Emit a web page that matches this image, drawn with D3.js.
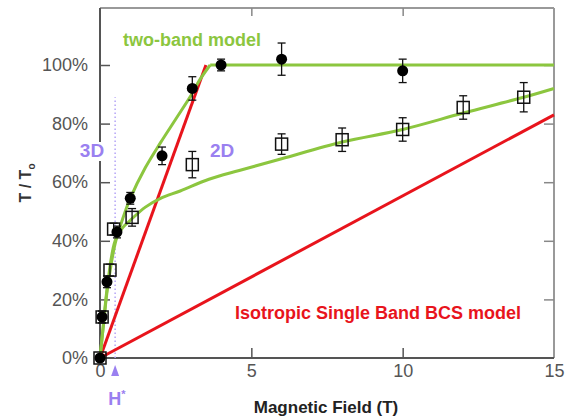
<!DOCTYPE html>
<html><head><meta charset="utf-8">
<script src="https://cdn.jsdelivr.net/npm/d3@7"></script>
<style>
html,body{margin:0;padding:0;background:#fff;}
svg{display:block;font-family:"Liberation Sans",Arial,sans-serif;}
</style></head>
<body>
<svg id="c" width="570" height="419"></svg>
<script>
// ---- data ----
const xTicks = [0, 5, 10, 15];
const yTicks = [0, 20, 40, 60, 80, 100];

// filled circles (3D measurement)
const circleX = [0, 0.07, 0.23, 0.56, 1.0, 2.05, 3.05, 4.0, 6.0, 10.0];
const circleY = [0, 14, 26, 43, 54.5, 69, 92, 100, 102, 98];
const circleErr = [1, 2, 2, 2, 2, 3, 4, 2, 5.5, 4];

// open squares (2D measurement)
const squareX = [0, 0.07, 0.33, 0.45, 1.06, 3.05, 6.0, 8.0, 10.0, 12.0, 14.0];
const squareY = [0, 14, 30, 44, 48, 66, 73, 74.5, 78, 85.5, 89];
const squareErr = [1, 2, 2, 2, 3, 4.5, 3.5, 4, 4, 4, 5];

// two-band model curves (3D: curved part, then saturated at 100%)
const band3DX = [0, 0.1, 0.25, 0.5, 0.75, 1.0, 1.5, 2.0, 2.5, 3.0, 3.3, 3.64];
const band3DY = [0, 10, 24, 39, 47.5, 54.5, 65, 73.5, 81.5, 89.5, 95, 100];
const band3DFlatX = [3.64, 15];
const band3DFlatY = [100, 100];
const band2DX = [0, 0.1, 0.25, 0.5, 0.75, 1.0, 1.5, 2.0, 2.65, 3.6, 4.6, 6, 8, 10, 12, 14, 15];
const band2DY = [0, 10, 25, 40, 44.5, 47, 51.5, 54.5, 57, 61, 64, 68, 73.7, 78, 83.6, 89, 92];

// isotropic single band BCS model
const bcsSteepX = [0, 3.5];
const bcsSteepY = [0, 100];
const bcsFlatX = [0, 15];
const bcsFlatY = [0, 83];

const hStar = 0.5;
const hStarTop = 89;

// ---- layout ----
const svg = d3.select("#c");
const x = d3.scaleLinear().domain([0, 15]).range([100, 554]);
const y = d3.scaleLinear().domain([0, 120]).range([358, 6.4]);

const green = "#8cc63f", red = "#e8141c", purple = "#9a80f0";

// frame
const x0 = x(0), x1 = x(15), yb = y(0), yt = 8;
svg.append("line").attr("x1", x0).attr("x2", x1).attr("y1", yt).attr("y2", yt).attr("stroke", "#999").attr("stroke-width", 2);
svg.append("line").attr("x1", x1).attr("x2", x1).attr("y1", yt).attr("y2", yb).attr("stroke", "#999").attr("stroke-width", 2);

// axes
const fmtPct = d => d + "%";
const gL = svg.append("g").attr("transform", `translate(${x0},0)`)
  .call(d3.axisLeft(y).tickValues(yTicks).tickSize(-10).tickPadding(12).tickFormat(fmtPct));
const gR = svg.append("g").attr("transform", `translate(${x1},0)`)
  .call(d3.axisRight(y).tickValues(yTicks.slice(1)).tickSize(-10).tickFormat(""));
const gB = svg.append("g").attr("transform", `translate(0,${yb})`)
  .call(d3.axisBottom(x).tickValues(xTicks).tickSize(-10).tickPadding(6).tickFormat(d3.format("d")));
const gT = svg.append("g").attr("transform", `translate(0,${yt})`)
  .call(d3.axisTop(x).tickValues([5, 10]).tickSize(-8).tickFormat(""));
[gL, gR, gB, gT].forEach(g => {
  g.select(".domain").remove();
  g.selectAll(".tick line").attr("stroke", "#555").attr("stroke-width", 1.5);
  g.selectAll(".tick text").attr("fill", "#555").attr("font-size", 18);
});
gR.selectAll(".tick line").attr("stroke", "#888");
gT.selectAll(".tick line").attr("stroke", "#888");
gB.selectAll(".tick").filter(d => d === 0 || d === 15).select("line").remove();
gL.selectAll(".tick").filter(d => d === 0).select("line").remove();

svg.append("line").attr("x1", x0).attr("x2", x1).attr("y1", yb).attr("y2", yb).attr("stroke", "#555").attr("stroke-width", 2);
svg.append("line").attr("x1", x0).attr("x2", x0).attr("y1", yt).attr("y2", yb).attr("stroke", "#555").attr("stroke-width", 2);

// H* dotted line
svg.append("line").attr("x1", x(hStar)).attr("x2", x(hStar)).attr("y1", y(0)).attr("y2", y(hStarTop))
  .attr("stroke", "#b4a4f6").attr("stroke-width", 1.5).attr("stroke-dasharray", "1.5,2.5");

// lines
const line = d3.line().x(d => x(d[0])).y(d => y(d[1]));
const zip = (a, b) => a.map((v, i) => [v, b[i]]);
svg.append("path").attr("d", line(zip(bcsFlatX, bcsFlatY))).attr("fill", "none").attr("stroke", red).attr("stroke-width", 3);
svg.append("path").attr("d", line(zip(bcsSteepX, bcsSteepY))).attr("fill", "none").attr("stroke", red).attr("stroke-width", 3);
const curve = d3.line().x(d => x(d[0])).y(d => y(d[1])).curve(d3.curveCatmullRom.alpha(0.5));
svg.append("path").attr("d", curve(zip(band2DX, band2DY))).attr("fill", "none").attr("stroke", green).attr("stroke-width", 3);
svg.append("path").attr("d", curve(zip(band3DX, band3DY))).attr("fill", "none").attr("stroke", green).attr("stroke-width", 3);
svg.append("path").attr("d", line(zip(band3DFlatX, band3DFlatY))).attr("fill", "none").attr("stroke", green).attr("stroke-width", 3);

// error bars
function errBars(xs, ys, es) {
  const g = svg.append("g").attr("stroke", "#111").attr("stroke-width", 1.3);
  xs.forEach((v, i) => {
    const cx = x(v), y1 = y(ys[i] - es[i]), y2 = y(ys[i] + es[i]);
    g.append("line").attr("x1", cx).attr("x2", cx).attr("y1", y1).attr("y2", y2);
    g.append("line").attr("x1", cx - 4).attr("x2", cx + 4).attr("y1", y1).attr("y2", y1);
    g.append("line").attr("x1", cx - 4).attr("x2", cx + 4).attr("y1", y2).attr("y2", y2);
  });
}
errBars(squareX, squareY, squareErr);
errBars(circleX, circleY, circleErr);

// squares
svg.append("g").selectAll("rect").data(zip(squareX, squareY)).join("rect")
  .attr("x", d => x(d[0]) - 6).attr("y", d => y(d[1]) - 6).attr("width", 12).attr("height", 12)
  .attr("fill", "none").attr("stroke", "#111").attr("stroke-width", 1.5);
// circles
svg.append("g").selectAll("circle").data(zip(circleX, circleY)).join("circle")
  .attr("cx", d => x(d[0])).attr("cy", d => y(d[1])).attr("r", 5.5).attr("fill", "#000");

// H* triangle
const tx = x(hStar);
svg.append("path").attr("d", `M${tx},${yb + 7} L${tx + 4},${yb + 18} L${tx - 4},${yb + 18} Z`).attr("fill", purple);
const hs = svg.append("text").attr("x", tx - 7).attr("y", 405).attr("fill", purple).attr("font-size", 18).attr("font-weight", "bold");
hs.append("tspan").text("H");
hs.append("tspan").attr("font-size", 11).attr("dy", -7).text("*");

// labels
const g3 = svg.append("g");
const bgRect = g3.append("rect").attr("fill", "#fff");
const t3 = g3.append("text").attr("x", 92).attr("y", 157).attr("text-anchor", "middle")
  .attr("fill", purple).attr("font-size", 19).attr("font-weight", "bold").text("3D");
const bb = t3.node().getBBox();
bgRect.attr("x", bb.x - 1).attr("y", bb.y + 2).attr("width", bb.width + 2).attr("height", bb.height - 2);
svg.append("text").attr("x", 210).attr("y", 157).attr("fill", purple).attr("font-size", 19).attr("font-weight", "bold").text("2D");

svg.append("text").attr("x", 123).attr("y", 46).attr("fill", green).attr("font-size", 18).attr("font-weight", "bold").text("two-band model");
svg.append("text").attr("x", 378).attr("y", 319).attr("text-anchor", "middle").attr("fill", red)
  .attr("font-size", 18).attr("font-weight", "bold").text("Isotropic Single Band BCS model");

svg.append("text").attr("x", 326).attr("y", 413).attr("text-anchor", "middle").attr("fill", "#222")
  .attr("font-size", 17).attr("font-weight", "bold").text("Magnetic Field (T)");

const yl = svg.append("text").attr("transform", "translate(31,183) rotate(-90)").attr("text-anchor", "middle")
  .attr("fill", "#333").attr("font-size", 16).attr("font-weight", "bold");
yl.append("tspan").text("T / T");
yl.append("tspan").attr("font-size", 10).attr("dy", 4).text("o");
</script>
</body></html>
